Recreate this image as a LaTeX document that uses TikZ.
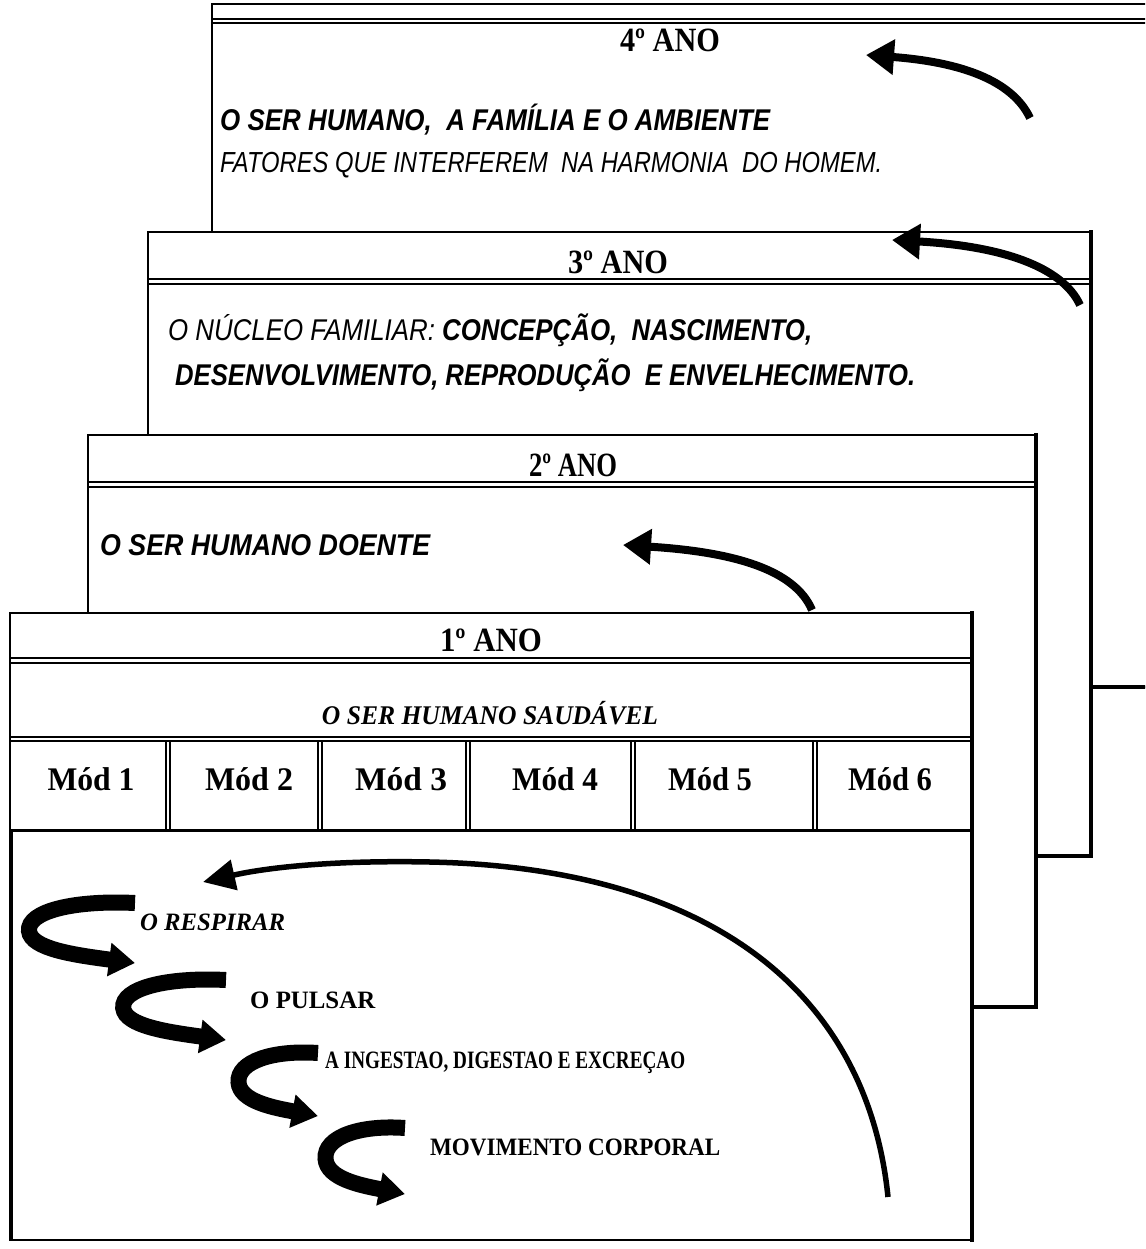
\documentclass[tikz,border=0pt]{standalone}
\usepackage{fontspec}
\setmainfont{Liberation Serif}
\newfontfamily\narfont{Liberation Sans}
\usetikzlibrary{arrows.meta}
\newcommand{\fitw}[2]{\resizebox{#1pt}{\height}{#2}}
\tikzset{
  panel/.style={fill=white,draw=black,line width=1.3pt},
  heavy/.style={line width=3.6pt,line cap=rect},
  dbl/.style={line width=1.3pt},
  ytitle/.style={font=\fontsize{34}{34}\selectfont\bfseries,inner sep=0pt},
  sanstxt/.style={font=\narfont\fontsize{30}{30}\selectfont\bfseries\itshape,anchor=west,inner sep=0pt},
  sanslight/.style={font=\narfont\fontsize{29}{29}\selectfont\itshape,anchor=west,inner sep=0pt},
  subtitle/.style={font=\fontsize{27}{27}\selectfont\bfseries\itshape,inner sep=0pt},
  modlbl/.style={font=\fontsize{33}{33}\selectfont\bfseries,inner sep=0pt},
  toplbl/.style={font=\fontsize{25}{25}\selectfont\bfseries,anchor=west,inner sep=0pt},
  bendarrow/.style={line width=8pt,-{Triangle[length=28pt,width=34pt]}},
  arcarrow/.style={line width=5.5pt,-{Triangle[length=32pt,width=30pt]}},
  carrow/.pic={
    \draw[line width=16pt,-{Triangle[length=26pt,width=32pt]}]
      (0,0) .. controls (-60,-3) and (-108,8) .. (-106,28)
      .. controls (-104,46) and (-60,52) .. (0,60);
  }
}
\begin{document}
\begin{tikzpicture}[x=1pt,y=-1pt]
\useasboundingbox (0,0) rectangle (1145,1249);
\fill[white] (0,0) rectangle (1145,1249);
\clip (0,0) rectangle (1145,1249);

% ---------- 4th year panel ----------
\draw[panel] (212,4) rectangle (1170,687);
\draw[heavy] (212,687) -- (1170,687);
\draw[dbl] (212,19) -- (1170,19);
\draw[dbl] (212,23) -- (1170,23);
\node[ytitle] (t4) at (670,40) {\fitw{100}{4º ANO}};
\node[sanstxt] (p4a) at (220,120) {\fitw{550}{O SER HUMANO,\ \ A FAMÍLIA E O AMBIENTE}};
\node[sanslight] (p4b) at (220,165) {\fitw{662}{FATORES QUE INTERFEREM\ \ NA HARMONIA\ \ DO HOMEM.}};
\coordinate (a4s) at (1030,118);
\coordinate (a4e) at (866,55);
\draw[bendarrow] (a4s) .. controls (1012,80) and (960,62) .. (a4e);

% ---------- 3rd year panel ----------
\draw[panel] (148,232) rectangle (1091,856);
\draw[heavy] (1091,232) -- (1091,856) -- (148,856);
\draw[dbl] (148,279) -- (1091,279);
\draw[dbl] (148,284) -- (1091,284);
\node[ytitle] (t3) at (618,262) {\fitw{100}{3º ANO}};
\node[sanstxt] (p3a) at (168,330) {\fitw{644}{{\mdseries O NÚCLEO FAMILIAR: }CONCEPÇÃO,\ \ NASCIMENTO,}};
\node[sanstxt] (p3b) at (175,375) {\fitw{740}{DESENVOLVIMENTO, REPRODUÇÃO\ \ E ENVELHECIMENTO.}};
\coordinate (a3s) at (1080,305);
\coordinate (a3e) at (892,240);
\draw[bendarrow] (a3s) .. controls (1062,266) and (1000,246) .. (a3e);

% ---------- 2nd year panel ----------
\draw[panel] (88,435) rectangle (1036,1007);
\draw[heavy] (1036,435) -- (1036,1007) -- (88,1007);
\draw[dbl] (88,482) -- (1036,482);
\draw[dbl] (88,487) -- (1036,487);
\node[ytitle] (t2) at (573,465) {\fitw{88}{2º ANO}};
\node[sanstxt] (p2a) at (100,545) {\fitw{330}{O SER HUMANO DOENTE}};
\coordinate (a2s) at (812,610);
\coordinate (a2e) at (623,545);
\draw[bendarrow] (a2s) .. controls (795,570) and (735,552) .. (a2e);

% ---------- 1st year panel ----------
\draw[panel] (10,613) rectangle (972,1240);
\draw[heavy] (972,613) -- (972,1240);
\draw[line width=2.5pt] (10,1240) -- (972,1240);
\draw[line width=2pt] (12,830) -- (12,1240);
\draw[dbl] (10,658) -- (972,658);
\draw[dbl] (10,663) -- (972,663);
\draw[dbl] (10,737) -- (972,737);
\draw[dbl] (10,741) -- (972,741);
\draw[line width=3pt] (10,830) -- (972,830);
\foreach \dx in {166,318,466,631,813}{
  \draw[line width=1.1pt] (\dx,741) -- (\dx,830);
  \draw[line width=1.1pt] (\dx+4,741) -- (\dx+4,830);
}
\node[ytitle] (t1) at (491,640) {\fitw{102}{1º ANO}};
\node[subtitle] (p1a) at (490,713) {\fitw{336}{O SER HUMANO SAUDÁVEL}};
\node[modlbl] (m1) at (91,779) {\fitw{87}{Mód 1}};
\node[modlbl] (m2) at (249,779) {\fitw{88}{Mód 2}};
\node[modlbl] (m3) at (401,779) {\fitw{92}{Mód 3}};
\node[modlbl] (m4) at (555,779) {\fitw{86}{Mód 4}};
\node[modlbl] (m5) at (710,779) {\fitw{84}{Mód 5}};
\node[modlbl] (m6) at (890,779) {\fitw{84}{Mód 6}};

\node[toplbl] (l1) at (140,922) {\fitw{145}{\itshape O RESPIRAR}};
\node[toplbl] (l2) at (250,1000) {\fitw{125}{O PULSAR}};
\node[toplbl] (l3) at (325,1063) {\fitw{360}{A INGESTAO, DIGESTAO E EXCREÇAO}};
\node[toplbl] (l4) at (430,1147) {\fitw{290}{MOVIMENTO CORPORAL}};

\pic at (135,903) {carrow};
\pic[xscale=0.97] at (226,980) {carrow};
\pic[xscale=0.75,yscale=1.05] at (318,1053) {carrow};
\pic[xscale=0.75,yscale=1.1] at (405,1128) {carrow};

\coordinate (bas) at (888,1197);
\coordinate (bae) at (203,882);
\draw[arcarrow] (bas) .. controls (868,1000) and (720,868) .. (430,862)
  .. controls (330,860) and (265,868) .. (bae);
\end{tikzpicture}
\end{document}
